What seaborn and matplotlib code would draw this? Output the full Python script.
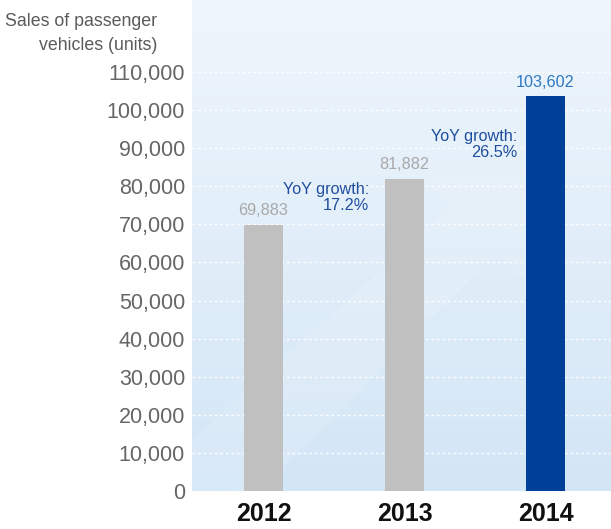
import numpy as np
import pandas as pd
import matplotlib
matplotlib.use("Agg")
import matplotlib.pyplot as plt
from matplotlib.patches import Polygon
import seaborn as sns

years = ["2012", "2013", "2014"]
sales = [69883, 81882, 103602]
value_labels = ["69,883", "81,882", "103,602"]
growth_labels = ["YoY growth:\n17.2%", "YoY growth:\n26.5%"]
yticks = list(range(0, 110001, 10000))
ytick_labels = [f"{v:,}" for v in yticks]
bar_colors = ["#bfc0bf", "#bfc0bf", "#003f98"]

sns.set_theme(style="white")
plt.rcParams["font.family"] = ["Liberation Sans", "DejaVu Sans"]

W, H = 611, 529
fig = plt.figure(figsize=(W / 100, H / 100), dpi=100)
ax = fig.add_axes([192 / W, 38 / H, 419 / W, 491 / H])

df = pd.DataFrame({"year": years, "sales": sales})
sns.barplot(data=df, x="year", y="sales", hue="year", palette=bar_colors,
            width=0.277, legend=False, ax=ax, saturation=1, zorder=3,
            linewidth=0, edgecolor="none")

ax.set_xlim(-0.507, 2.465)
ax.set_ylim(0, 128900)

# gradient background
grad = np.linspace(0, 1, 256).reshape(-1, 1)
top = np.array([0xef, 0xf6, 0xfc]) / 255
bot = np.array([0xd3, 0xe6, 0xf6]) / 255
img = top + (bot - top) * grad[:, :, None]
ax.imshow(img, extent=[0, 1, 0, 1], transform=ax.transAxes, aspect="auto",
          zorder=0)

# faint arrow decoration
def px(x, y):
    return ((x - 192) / 419, (491 - y) / 491)
arrow_pts = [px(420, 175), px(527, 175), px(527, 282), px(497, 252),
             px(260, 491), px(192, 491), px(192, 440), px(452, 206)]
ax.add_patch(Polygon(arrow_pts, closed=True, transform=ax.transAxes,
                     facecolor="white", edgecolor="none", alpha=0.12, zorder=1))

# grid
for v in yticks[1:]:
    ax.axhline(v, color="white", lw=1.0, ls=(0, (2, 2)), alpha=0.9, zorder=2)

for s in ax.spines.values():
    s.set_visible(False)

ax.set_yticks(yticks)
ax.set_yticklabels(ytick_labels, fontsize=15.5, color="#666666")
ax.tick_params(axis="y", length=0, pad=5)
ax.set_xticks(range(len(years)))
ax.set_xticklabels(years, fontsize=18, fontweight="bold", color="#111111")
ax.tick_params(axis="x", length=0, pad=8)
ax.set_xlabel("")
ax.set_ylabel("")

# value labels
vcolors = ["#a9a9a9", "#a9a9a9", "#2f78c4"]
for i, (v, lab) in enumerate(zip(sales, value_labels)):
    ax.annotate(lab, (i, v), xytext=(0, 7), textcoords="offset points",
                ha="center", va="baseline", fontsize=11.7, color=vcolors[i],
                zorder=4)

# growth annotations
ax.text(*px(369, 210), growth_labels[0], transform=ax.transAxes, ha="right",
        va="baseline", fontsize=11.7, color="#1f4e9e", linespacing=1.1,
        multialignment="right", zorder=4)
ax.text(*px(517, 157), growth_labels[1], transform=ax.transAxes, ha="right",
        va="baseline", fontsize=11.7, color="#1f4e9e", linespacing=1.1,
        multialignment="right", zorder=4)

fig.text(157 / W, 1 - 50 / H, "Sales of passenger\nvehicles (units)",
         ha="right", va="baseline", fontsize=12.8, color="#5a5a5a",
         multialignment="right", linespacing=1.5)

fig.savefig("out.png", dpi=100)
